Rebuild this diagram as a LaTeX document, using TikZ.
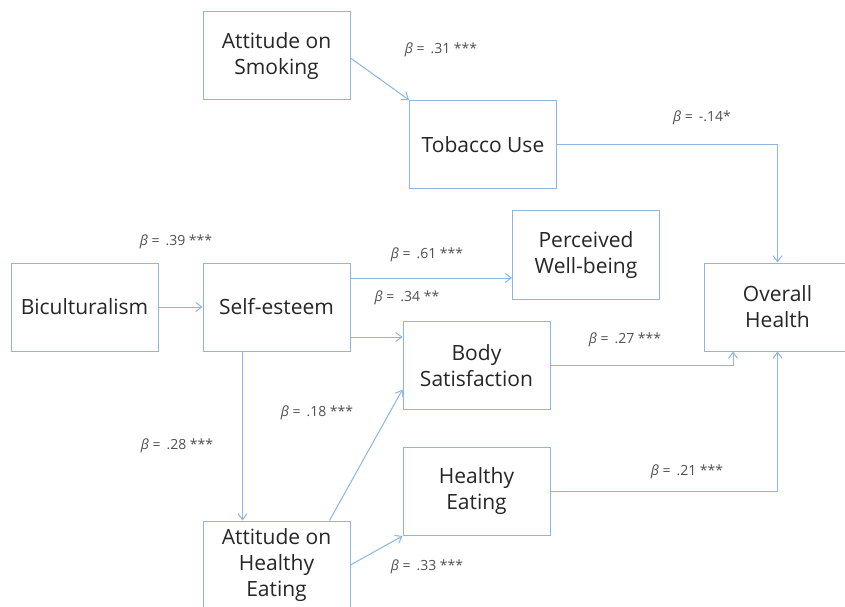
\documentclass[tikz,border=0pt]{standalone}
\usepackage{fontspec}
\setmainfont{Open Sans}
\usetikzlibrary{arrows.meta}

\definecolor{pathblue}{RGB}{141,182,228}
\definecolor{coeftext}{RGB}{80,80,80}
\newcommand{\coef}[1]{\textit{β} =\, #1}

\begin{document}
\begin{tikzpicture}[x=1pt,y=1pt,
    var/.style={draw=pathblue,line width=1pt,minimum width=147pt,minimum height=88pt,
      align=center,font=\fontsize{21}{26}\selectfont,text=black!85},
    coefl/.style={font=\fontsize{14}{16}\selectfont,text=coeftext},
    path/.style={draw=pathblue,line width=1pt,-{Straight Barb[length=6pt,width=9pt]}}]
  \useasboundingbox (0,0) rectangle (845,606);
  \clip (0,0) rectangle (845,606);
  \fill[white] (0,0) rectangle (845,606);

  \node[var] (smoking) at (276.5,550) {Attitude on\\Smoking};
  \node[var] (tobacco) at (483,461.5) {Tobacco Use};
  \node[var] (wellbeing) at (586,351) {Perceived\\Well-being};
  \node[var] (health) at (777.5,299) {Overall\\Health};
  \node[var] (bicult) at (84.5,299) {Biculturalism};
  \node[var] (esteem) at (276.5,299) {Self-esteem};
  \node[var] (body) at (476.5,240.5) {Body\\Satisfaction};
  \node[var] (eating) at (476.5,114.5) {Healthy\\Eating};
  \node[var] (attitude) at (276.5,41) {Attitude on\\Healthy\\Eating};

  \draw[path] ([yshift=-2pt]smoking.east) -- (tobacco.north west);
  \draw[path] (tobacco.east) -| (health.north);
  \draw[path] (bicult.east) -- (esteem.west);
  \draw[path] ([yshift=29pt]esteem.east) -- ([yshift=29pt]esteem.east -| wellbeing.west);
  \draw[path] ([yshift=-30pt]esteem.east) -- ([yshift=-30pt]esteem.east -| body.west);
  \draw[path] ([xshift=-34pt]esteem.south) -- ([xshift=-34pt]attitude.north);
  \draw[path] ([xshift=53pt]attitude.north) -- ([yshift=-24pt]body.west);
  \draw[path] (attitude.east) -- (eating.south west);
  \draw[path] (body.east) -| ([xshift=-44.5pt]health.south);
  \draw[path] (eating.east) -| (health.south);

  \node[coefl] (c1) at (441,556) {\coef{.31 ***}};
  \node[coefl] (c2) at (702,488) {\coef{-.14*}};
  \node[coefl] (c3) at (176,364) {\coef{.39 ***}};
  \node[coefl] (c4) at (427,351) {\coef{.61 ***}};
  \node[coefl] (c5) at (407,308) {\coef{.34 **}};
  \node[coefl] (c6) at (625,266) {\coef{.27 ***}};
  \node[coefl] (c7) at (317,193) {\coef{.18 ***}};
  \node[coefl] (c8) at (177,160) {\coef{.28 ***}};
  \node[coefl] (c9) at (687,134) {\coef{.21 ***}};
  \node[coefl] (c10) at (427,39) {\coef{.33 ***}};
\end{tikzpicture}
\end{document}
